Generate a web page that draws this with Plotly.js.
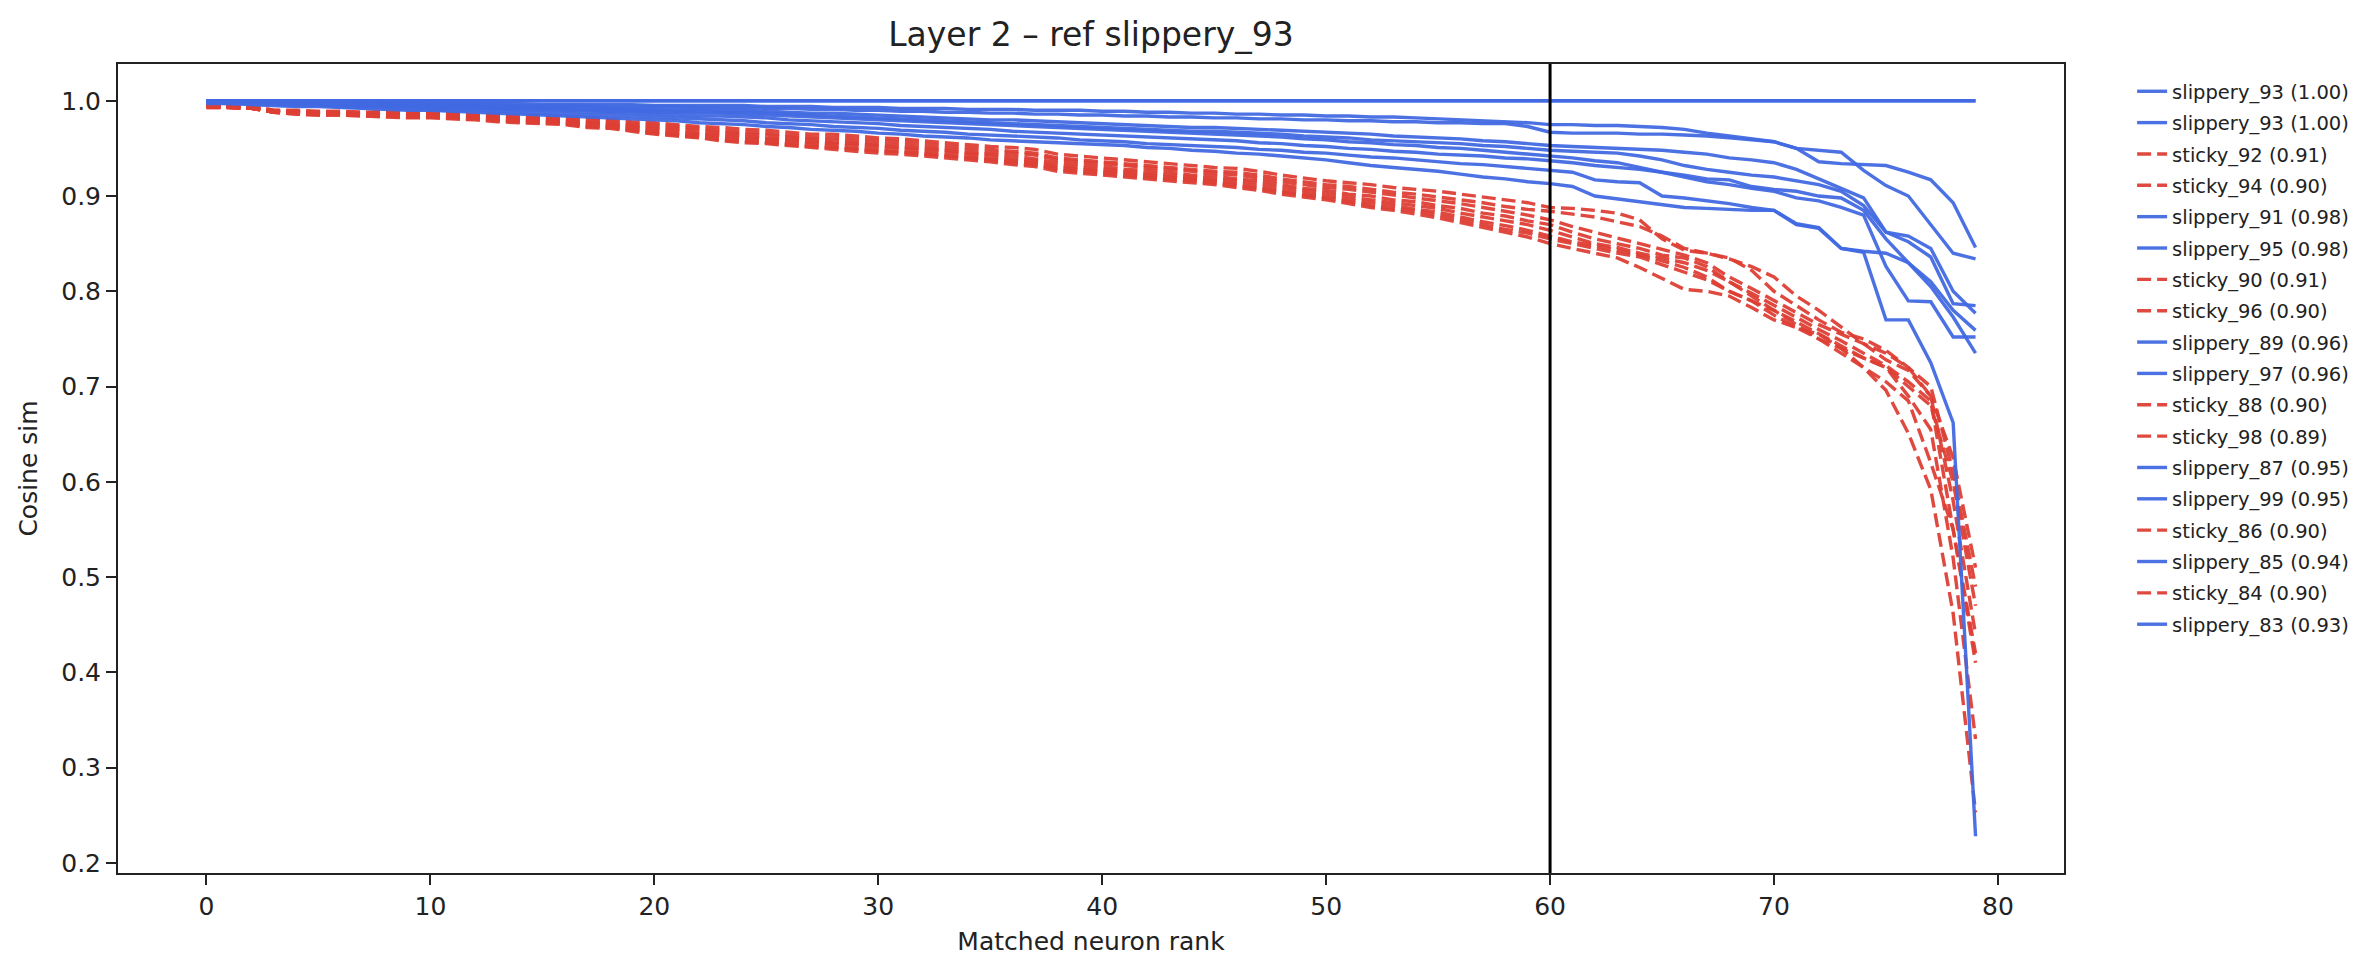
<!DOCTYPE html>
<html>
<head>
<meta charset="utf-8">
<script src="https://cdn.plot.ly/plotly-3.0.1.min.js"></script>
<style>html,body{margin:0;padding:0;background:#fff;}#chart{width:2374px;height:976px;}</style>
</head>
<body>
<div id="chart"></div>
<script>
// ---- data ----
const ranks = [0,1,2,3,4,5,6,7,8,9,10,11,12,13,14,15,16,17,18,19,20,21,22,23,24,25,26,27,28,29,30,31,32,33,34,35,36,37,38,39,40,41,42,43,44,45,46,47,48,49,50,51,52,53,54,55,56,57,58,59,60,61,62,63,64,65,66,67,68,69,70,71,72,73,74,75,76,77,78,79];

const seriesNames = ["slippery_93","slippery_93","sticky_92","sticky_94","slippery_91","slippery_95","sticky_90","sticky_96","slippery_89","slippery_97","sticky_88","sticky_98","slippery_87","slippery_99","sticky_86","slippery_85","sticky_84","slippery_83"];
const seriesScores = ["1.00","1.00","0.91","0.90","0.98","0.98","0.91","0.90","0.96","0.96","0.90","0.89","0.95","0.95","0.90","0.94","0.90","0.93"];
const seriesKind = ["slippery","slippery","sticky","sticky","slippery","slippery","sticky","sticky","slippery","slippery","sticky","sticky","slippery","slippery","sticky","slippery","sticky","slippery"];

const slippery_93 = [1.0,1.0,1.0,1.0,1.0,1.0,1.0,1.0,1.0,1.0,1.0,1.0,1.0,1.0,1.0,1.0,1.0,1.0,1.0,1.0,1.0,1.0,1.0,1.0,1.0,1.0,1.0,1.0,1.0,1.0,1.0,1.0,1.0,1.0,1.0,1.0,1.0,1.0,1.0,1.0,1.0,1.0,1.0,1.0,1.0,1.0,1.0,1.0,1.0,1.0,1.0,1.0,1.0,1.0,1.0,1.0,1.0,1.0,1.0,1.0,1.0,1.0,1.0,1.0,1.0,1.0,1.0,1.0,1.0,1.0,1.0,1.0,1.0,1.0,1.0,1.0,1.0,1.0,1.0,1.0];

const slippery_91 = [1.000,.999,.999,.999,.999,.998,.998,.998,.998,.998,
.997,.997,.997,.997,.997,.996,.996,.996,.996,.996,
.995,.995,.995,.995,.995,.994,.994,.994,.993,.993,
.993,.992,.992,.992,.991,.991,.991,.990,.990,.990,
.989,.989,.988,.988,.987,.987,.986,.986,.985,.985,
.984,.984,.983,.983,.982,.981,.980,.979,.978,.977,
.975,.975,.974,.974,.973,.972,.970,.966,.963,.960,
.957,.950,.936,.934,.933,.932,.925,.917,.893,.846];

const slippery_95 = [1.000,.999,.999,.999,.998,.998,.998,.997,.997,.997,
.996,.996,.996,.996,.995,.995,.995,.995,.994,.994,
.994,.994,.993,.993,.993,.992,.992,.991,.991,.990,
.990,.989,.989,.988,.988,.987,.987,.986,.986,.985,
.985,.984,.984,.983,.983,.982,.982,.981,.981,.980,
.980,.979,.979,.978,.978,.977,.977,.976,.976,.973,
.967,.966,.966,.966,.965,.965,.964,.963,.961,.959,
.957,.950,.948,.946,.927,.911,.900,.870,.840,.834];

const slippery_89 = [.999,.999,.998,.998,.998,.997,.997,.997,.996,.996,
.996,.995,.995,.994,.994,.994,.993,.993,.992,.992,
.991,.991,.991,.990,.990,.989,.988,.987,.987,.986,
.985,.984,.983,.982,.981,.980,.980,.979,.978,.977,
.976,.975,.974,.973,.972,.972,.971,.970,.969,.968,
.967,.966,.965,.963,.962,.961,.960,.958,.957,.955,
.953,.952,.951,.950,.949,.948,.946,.944,.940,.938,
.935,.928,.918,.908,.898,.862,.852,.836,.787,.785];

const slippery_97 = [.999,.999,.998,.998,.997,.997,.996,.996,.995,.995,
.995,.994,.994,.993,.993,.992,.992,.991,.991,.990,
.990,.989,.989,.988,.988,.987,.986,.985,.984,.983,
.982,.981,.980,.979,.978,.977,.976,.975,.974,.973,
.972,.971,.970,.969,.968,.968,.967,.966,.965,.963,
.962,.961,.959,.958,.957,.956,.955,.953,.952,.950,
.948,.947,.946,.945,.942,.938,.932,.928,.925,.922,
.920,.916,.912,.905,.890,.862,.858,.845,.800,.777];

const slippery_87 = [.999,.998,.998,.997,.997,.996,.996,.995,.995,.994,
.994,.993,.993,.992,.992,.991,.990,.990,.989,.989,
.988,.988,.987,.987,.986,.985,.984,.983,.982,.981,
.980,.979,.978,.977,.976,.975,.974,.973,.972,.971,
.970,.969,.968,.967,.966,.965,.964,.963,.962,.960,
.959,.957,.956,.954,.953,.951,.950,.948,.946,.944,
.942,.940,.937,.935,.930,.925,.922,.918,.917,.910,
.907,.905,.900,.898,.885,.855,.830,.810,.780,.759];

const slippery_99 = [.998,.998,.997,.997,.996,.996,.995,.995,.994,.994,
.993,.992,.992,.991,.990,.990,.989,.988,.988,.987,
.986,.985,.984,.984,.983,.982,.980,.979,.978,.977,
.976,.974,.973,.972,.971,.970,.968,.967,.966,.965,
.964,.963,.962,.961,.960,.959,.958,.956,.955,.953,
.952,.950,.949,.947,.946,.944,.943,.942,.940,.939,
.937,.935,.932,.930,.928,.925,.920,.915,.912,.908,
.905,.898,.895,.888,.880,.826,.790,.789,.752,.752];

const slippery_85 = [.998,.997,.997,.996,.995,.995,.994,.993,.993,.992,
.991,.990,.990,.989,.988,.987,.986,.985,.985,.984,
.983,.982,.981,.980,.979,.977,.976,.975,.973,.972,
.971,.969,.968,.967,.965,.964,.963,.962,.961,.959,
.958,.957,.955,.954,.953,.952,.951,.949,.948,.946,
.945,.943,.941,.940,.938,.936,.934,.933,.931,.929,
.927,.925,.917,.915,.914,.900,.898,.895,.892,.888,
.885,.870,.866,.845,.842,.840,.830,.805,.773,.735];

const slippery_83 = [.997,.997,.996,.995,.994,.994,.993,.992,.991,.990,
.990,.989,.988,.987,.986,.985,.984,.983,.982,.981,
.980,.979,.977,.976,.975,.973,.972,.970,.969,.968,
.966,.965,.963,.962,.961,.959,.958,.957,.956,.955,
.954,.953,.951,.950,.948,.947,.945,.944,.942,.940,
.938,.935,.932,.930,.928,.926,.923,.920,.918,.915,
.913,.910,.900,.897,.894,.891,.888,.887,.886,.885,
.885,.871,.867,.845,.841,.770,.770,.725,.662,.228];

const sticky_92 = [.996,.995,.994,.990,.990,.989,.989,.988,.989,.988,
.988,.987,.986,.986,.985,.984,.983,.982,.981,.978,
.977,.975,.973,.972,.970,.969,.967,.965,.965,.963,
.961,.960,.958,.956,.954,.952,.951,.949,.944,.942,
.940,.938,.936,.934,.932,.930,.929,.926,.922,.919,
.916,.914,.912,.909,.907,.905,.902,.899,.896,.893,
.888,.887,.885,.882,.875,.855,.843,.840,.834,.826,
.815,.795,.780,.762,.745,.728,.717,.690,.625,.510];

const sticky_90 = [.995,.995,.994,.990,.989,.988,.988,.987,.988,.987,
.987,.986,.985,.984,.983,.982,.981,.980,.979,.976,
.975,.973,.971,.969,.967,.966,.964,.962,.962,.960,
.958,.957,.955,.953,.951,.949,.947,.945,.940,.938,
.936,.934,.932,.930,.928,.926,.925,.922,.918,.915,
.912,.910,.907,.904,.902,.899,.896,.893,.889,.886,
.884,.881,.878,.873,.868,.858,.845,.840,.835,.822,
.800,.785,.770,.757,.750,.738,.720,.700,.610,.490];

const sticky_94 = [.995,.994,.993,.989,.988,.987,.987,.986,.987,.986,
.986,.985,.984,.983,.982,.981,.980,.978,.977,.974,
.973,.971,.969,.967,.965,.964,.962,.960,.959,.957,
.955,.954,.952,.950,.948,.946,.945,.943,.938,.936,
.934,.932,.930,.928,.926,.924,.922,.919,.915,.912,
.909,.907,.904,.901,.898,.895,.892,.888,.884,.880,
.875,.868,.862,.856,.850,.844,.838,.830,.815,.803,
.790,.778,.765,.755,.745,.735,.720,.690,.580,.440];

const sticky_96 = [.994,.994,.993,.989,.988,.987,.986,.986,.985,.985,
.984,.984,.983,.982,.981,.980,.978,.977,.975,.973,
.971,.969,.966,.965,.963,.961,.960,.958,.956,.955,
.953,.951,.950,.948,.945,.944,.942,.939,.935,.933,
.931,.928,.927,.925,.922,.921,.918,.916,.912,.908,
.906,.902,.900,.896,.894,.890,.887,.882,.879,.874,
.870,.862,.855,.850,.845,.838,.835,.826,.810,.798,
.785,.772,.760,.748,.735,.722,.705,.685,.550,.420];

const sticky_88 = [.994,.993,.992,.988,.988,.986,.986,.985,.985,.984,
.984,.983,.982,.981,.980,.979,.978,.976,.975,.972,
.969,.967,.965,.963,.961,.960,.958,.956,.955,.953,
.951,.950,.948,.946,.944,.942,.939,.937,.932,.930,
.928,.926,.924,.922,.920,.918,.916,.913,.909,.906,
.903,.899,.896,.893,.890,.887,.882,.878,.874,.870,
.864,.857,.850,.846,.840,.835,.830,.822,.810,.795,
.780,.768,.755,.742,.730,.720,.700,.680,.600,.470];

const sticky_98 = [.993,.993,.992,.988,.986,.985,.985,.984,.983,.982,
.982,.981,.980,.978,.977,.976,.975,.972,.971,.968,
.965,.963,.961,.958,.956,.955,.953,.951,.949,.947,
.945,.944,.942,.940,.938,.936,.933,.931,.926,.924,
.922,.920,.918,.916,.914,.912,.909,.906,.902,.899,
.896,.892,.888,.885,.881,.877,.872,.867,.862,.857,
.850,.845,.840,.835,.825,.813,.802,.800,.795,.783,
.770,.762,.755,.740,.720,.696,.651,.592,.462,.253];

const sticky_86 = [.994,.993,.992,.988,.987,.986,.986,.985,.984,.983,
.983,.982,.981,.980,.979,.978,.977,.974,.973,.970,
.967,.965,.963,.961,.959,.958,.956,.954,.952,.950,
.948,.947,.945,.943,.941,.939,.937,.935,.930,.928,
.926,.924,.922,.920,.918,.916,.913,.910,.906,.903,
.900,.896,.893,.890,.886,.883,.878,.873,.869,.864,
.858,.852,.848,.843,.838,.832,.825,.815,.800,.790,
.775,.762,.750,.740,.730,.720,.690,.655,.520,.330];

const sticky_84 = [.993,.993,.992,.988,.986,.985,.985,.984,.984,.983,
.983,.982,.981,.979,.978,.977,.976,.973,.972,.969,
.966,.964,.962,.959,.957,.956,.954,.952,.951,.949,
.947,.946,.944,.942,.940,.938,.935,.933,.928,.926,
.924,.922,.920,.918,.916,.914,.911,.908,.904,.901,
.898,.894,.890,.887,.884,.880,.875,.870,.865,.861,
.855,.850,.845,.840,.836,.828,.820,.812,.800,.790,
.780,.765,.750,.735,.720,.705,.685,.620,.550,.410];

const refRank = 60;
const xTickVals = [0,10,20,30,40,50,60,70,80];
const yTickVals = [0.2,0.3,0.4,0.5,0.6,0.7,0.8,0.9,1.0];
const yTickText = ["0.2","0.3","0.4","0.5","0.6","0.7","0.8","0.9","1.0"];

// ---- build ----
const seriesValues = [slippery_93, slippery_93, sticky_92, sticky_94, slippery_91, slippery_95, sticky_90, sticky_96,
  slippery_89, slippery_97, sticky_88, sticky_98, slippery_87, slippery_99, sticky_86, slippery_85, sticky_84, slippery_83];

const BLUE = '#4169e1';
const RED = '#dd3f35';
const FONT = 'DejaVu Sans, sans-serif';

const traces = seriesValues.map((vals, i) => {
  const sticky = seriesKind[i] === 'sticky';
  return {
    type: 'scatter',
    mode: 'lines',
    x: ranks,
    y: vals,
    name: seriesNames[i] + ' (' + seriesScores[i] + ')',
    legendgroup: 'g' + i,
    line: {
      color: sticky ? RED : BLUE,
      width: 3.4,
      dash: sticky ? '14px,6px' : 'solid'
    },
    opacity: 0.95,
    hoverinfo: 'skip'
  };
});

const layout = {
  width: 2374,
  height: 976,
  paper_bgcolor: '#ffffff',
  plot_bgcolor: '#ffffff',
  font: {family: FONT, color: '#222222', size: 25},
  margin: {l: 118, r: 310, t: 64, b: 103, pad: 0},
  title: {
    text: 'Layer 2 – ref slippery_93',
    font: {family: FONT, size: 33, color: '#222222'},
    x: 0.5, xref: 'paper', xanchor: 'center',
    y: 1 - 34/976, yref: 'container', yanchor: 'middle'
  },
  xaxis: {
    range: [-3.95, 82.95],
    tickmode: 'array',
    tickvals: xTickVals,
    ticks: 'outside', ticklen: 10, tickwidth: 2, tickcolor: '#222',
    showgrid: false, zeroline: false,
    showline: true, linecolor: '#222', linewidth: 2, mirror: true,
    tickfont: {family: FONT, size: 25, color: '#222'},
    title: {text: 'Matched neuron rank', font: {family: FONT, size: 25, color: '#222'}, standoff: 12},
    automargin: false
  },
  yaxis: {
    range: [0.1894, 1.0386],
    tickmode: 'array',
    tickvals: yTickVals,
    ticktext: yTickText,
    ticks: 'outside', ticklen: 10, tickwidth: 2, tickcolor: '#222',
    showgrid: false, zeroline: false,
    showline: true, linecolor: '#222', linewidth: 2, mirror: true,
    tickfont: {family: FONT, size: 25, color: '#222'},
    title: {text: 'Cosine sim', font: {family: FONT, size: 25, color: '#222'}, standoff: 16},
    automargin: false
  },
  showlegend: true,
  legend: {
    x: 1.035, xanchor: 'left', xref: 'paper',
    y: 0.99, yanchor: 'top', yref: 'paper',
    font: {family: FONT, size: 19.5, color: '#222'},
    bgcolor: 'rgba(255,255,255,0)',
    borderwidth: 0,
    tracegroupgap: 3,
    traceorder: 'grouped'
  },
  shapes: [{
    type: 'line', xref: 'x', yref: 'paper',
    x0: refRank, x1: refRank, y0: 0, y1: 1,
    line: {color: '#000000', width: 3}
  }]
};

Plotly.newPlot('chart', traces, layout, {staticPlot: true, displayModeBar: false});
</script>
</body>
</html>
